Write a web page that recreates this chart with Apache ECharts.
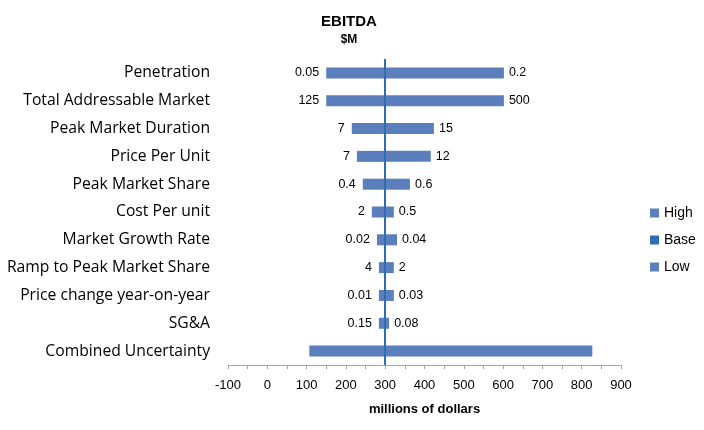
<!DOCTYPE html>
<html><head><meta charset="utf-8">
<script src="https://cdn.jsdelivr.net/npm/echarts@6/dist/echarts.min.js"></script>
<style>html,body{margin:0;padding:0;background:#fff}#c{width:704px;height:430px}</style>
</head><body><div id="c"></div>
<script>
const categories = ['Penetration','Total Addressable Market','Peak Market Duration','Price Per Unit','Peak Market Share','Cost Per unit','Market Growth Rate','Ramp to Peak Market Share','Price change year-on-year','SG&A','Combined Uncertainty'];
const baseValue = 300;
const lowEnds  = [150, 150, 215, 228, 243, 266, 279, 284, 284, 284, 107];
const highEnds = [602, 602, 424, 416, 363, 322, 330, 322, 322, 310, 827];
const lowLabels  = ['0.05','125','7','7','0.4','2','0.02','4','0.01','0.15',''];
const highLabels = ['0.2','500','15','12','0.6','0.5','0.04','2','0.03','0.08',''];
const xTicks = {min: -100, max: 900, interval: 100};

const barColor = '#5A7FBC';
const baseColor = '#2E6DB4';
const font = 'Liberation Sans, Arial, sans-serif';
const catFont = 'Open Sans, Noto Sans, sans-serif';

const chart = echarts.init(document.getElementById('c'), null, {renderer:'canvas'});
chart.setOption({
  animation: false,
  textStyle: {fontFamily: font},
  title: {
    text: 'EBITDA', subtext: '$M', left: 344, top: 9, textAlign: 'center', itemGap: 5,
    textStyle: {fontFamily: font, fontSize: 15, fontWeight: 'bold', color: '#000'},
    subtextStyle: {fontFamily: font, fontSize: 12, fontWeight: 'bold', color: '#000'}
  },
  legend: {
    data: ['High','Base','Low'], orient: 'vertical', left: 645, top: 201,
    itemWidth: 9, itemHeight: 9, itemGap: 13, icon: 'rect',
    textStyle: {fontFamily: font, fontSize: 14, color: '#000'}
  },
  grid: {left: 228, right: 83, top: 59, bottom: 65},
  xAxis: {
    type: 'value', min: xTicks.min, max: xTicks.max, interval: xTicks.interval,
    name: 'millions of dollars', nameLocation: 'middle', nameGap: 38,
    nameTextStyle: {fontFamily: font, fontSize: 13, fontWeight: 'bold', color: '#000'},
    axisLine: {show: true, lineStyle: {color: '#A6A6A6'}},
    axisTick: {show: true, length: 4, lineStyle: {color: '#A6A6A6'}},
    minorTick: {show: true, splitNumber: 2, length: 4, lineStyle: {color: '#A6A6A6'}},
    splitLine: {show: false},
    axisLabel: {fontFamily: font, fontSize: 13, color: '#000', margin: 14}
  },
  yAxis: {
    type: 'category', data: categories, inverse: true,
    axisLine: {show: false}, axisTick: {show: false},
    axisLabel: {fontFamily: catFont, fontSize: 15.7, color: '#000', margin: 18}
  },
  series: [
    {name: 'offset', type: 'bar', stack: 't', barWidth: 11, silent: true,
     itemStyle: {color: 'transparent'}, data: lowEnds},
    {name: 'Low', type: 'bar', stack: 't', barWidth: 11, itemStyle: {color: barColor},
     data: lowEnds.map((v, i) => baseValue - v),
     label: {show: true, position: 'left', distance: 7, fontFamily: font, fontSize: 12.5, color: '#000',
       formatter: p => lowLabels[p.dataIndex]}},
    {name: 'High', type: 'bar', stack: 't', barWidth: 11, itemStyle: {color: barColor},
     data: highEnds.map((v, i) => v - baseValue),
     label: {show: true, position: 'right', distance: 5, fontFamily: font, fontSize: 12.5, color: '#000',
       formatter: p => highLabels[p.dataIndex]}},
    {name: 'Base', type: 'line', data: [], itemStyle: {color: baseColor}, lineStyle: {color: baseColor},
     markLine: {silent: true, symbol: 'none', label: {show: false},
       lineStyle: {color: baseColor, width: 2, type: 'solid'},
       data: [{xAxis: baseValue}]}}
  ]
});
</script></body></html>
